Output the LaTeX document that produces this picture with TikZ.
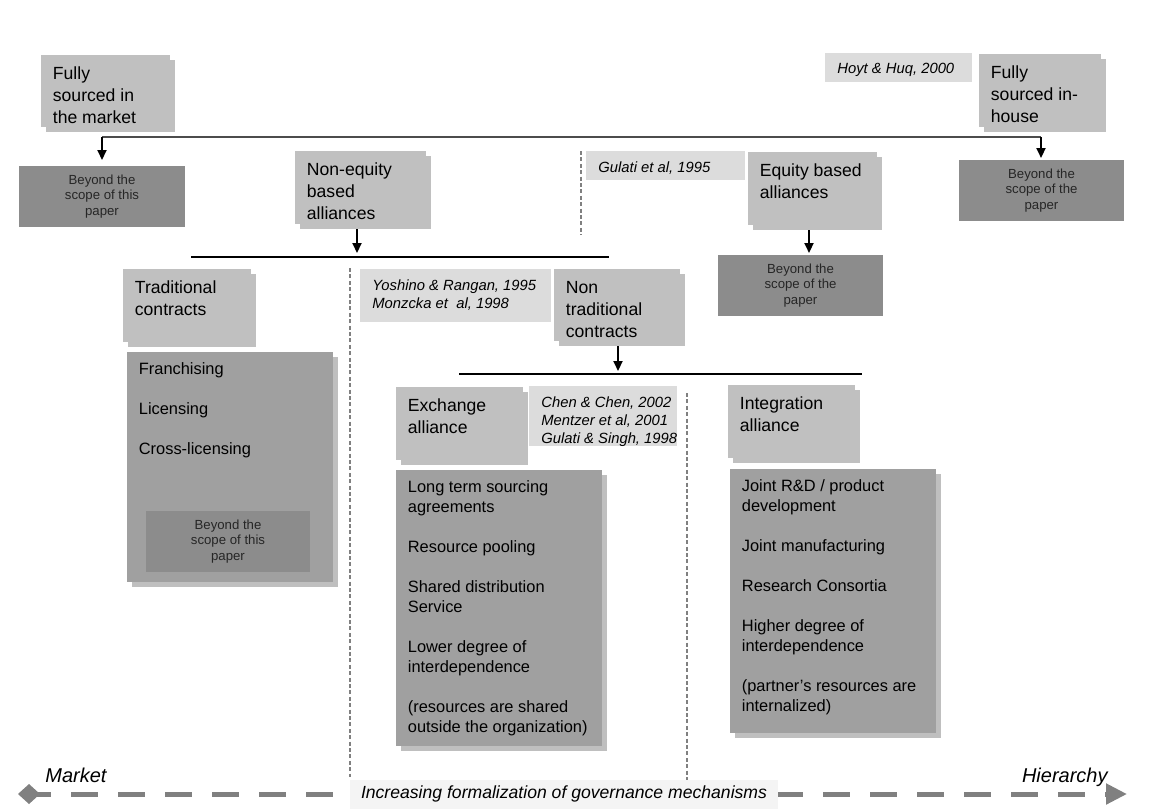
\documentclass[tikz,border=0pt]{standalone}
\usepackage{fontspec}
\setmainfont{Liberation Sans}
\usetikzlibrary{shadows}
\usetikzlibrary{positioning}
\usetikzlibrary{arrows.meta}
\definecolor{cLight}{RGB}{192,192,192}
\definecolor{cDark}{RGB}{140,140,140}
\definecolor{cList}{RGB}{160,160,160}
\definecolor{cCite}{RGB}{220,220,220}
\definecolor{cBand}{RGB}{244,244,244}
\definecolor{cArrow}{RGB}{128,128,128}
\newcommand\hdfont{\fontsize{8.8}{11}\selectfont}
\newcommand\lsfont{\fontsize{8.2}{10}\selectfont}
\newcommand\bsfont{\fontsize{6.6}{7.75}\selectfont}
\newcommand\ctfont{\itshape\fontsize{7.4}{9}\selectfont}
\tikzstyle{headbox}=[anchor=north west,inner sep=0pt,outer sep=0pt,fill=cLight,general shadow={shadow xshift=2.5pt,shadow yshift=-2.5pt,fill=cLight}]
\tikzstyle{listbox}=[anchor=north west,inner sep=0pt,outer sep=0pt,fill=cList,general shadow={shadow xshift=2.5pt,shadow yshift=-2.5pt,fill=black!25}]
\tikzstyle{citebox}=[anchor=north west,inner sep=0pt,outer sep=0pt,fill=cCite]
\tikzstyle{beybox}=[anchor=north west,inner sep=0pt,outer sep=0pt,fill=cDark]
\tikzstyle{headtxt}=[anchor=north west,inner sep=0pt,align=left,font=\hdfont]
\tikzstyle{listtxt}=[anchor=north west,inner sep=0pt,align=left,font=\lsfont]
\tikzstyle{citetxt}=[anchor=north west,inner sep=0pt,align=left,font=\ctfont]
\tikzstyle{beytxt}=[inner sep=0pt,align=center,font=\bsfont,text=black!85]
\tikzstyle{arr}=[draw,line width=1pt,-{Triangle[length=5pt,width=4.5pt]}]
\tikzstyle{topline}=[draw,line width=1.2pt,black!70]
\tikzstyle{midline}=[draw,line width=0.6pt]
\tikzstyle{vsep}=[draw,line width=0.6pt,gray,dash pattern=on 2pt off 1.2pt]
\tikzstyle{band}=[draw,cArrow,line width=2.5pt,dash pattern=on 13.5pt off 10pt,dash phase=6pt,{Turned Square[length=11pt,width=10pt]}-{Triangle[length=10.5pt,width=10pt]}]
\tikzstyle{endtxt}=[inner sep=0pt,font=\itshape\fontsize{10}{12}\selectfont]

\begin{document}
\begin{tikzpicture}[x=0.5pt,y=-0.5pt]
    \useasboundingbox (0,0) rectangle (1154,810);
    % separators
    \draw[vsep] (581,151) -- (581,235);
    \draw[vsep] (350,268) -- (350,777);
    \draw[vsep] (687,393) -- (687,780);

    % citation boxes
    \foreach \x/\y/\w/\h/\name/\txt in {825/53/147/29/hoyt/{Hoyt \& Huq, 2000}, 586/151/159/29/gul/{Gulati et al, 1995}, 360/269/191/53/yos/{Yoshino \& Rangan, 1995\\Monzcka et~ al, 1998}, 529/386/148/60/chen/{Chen \& Chen, 2002\\Mentzer et al, 2001\\Gulati \& Singh, 1998}}{
        \node[citebox,minimum width=\w*0.5pt,minimum height=\h*0.5pt] (\name) at (\x,\y) {};
        \node[citetxt] (\name-t) at ([xshift=6pt,yshift=-5pt]\name.north west) {\txt};
    }

    % heading boxes
    \foreach \x/\y/\w/\h/\name/\txt in {41/55/129/72/fsm/{Fully\\sourced in\\the market}, 979/54/122/73/fsh/{Fully\\sourced in-\\house}, 295/151/131/73/neq/{Non-equity\\based\\alliances}, 748/152/129/73/eqa/{Equity based\\alliances}, 123/269/128/73/trc/{Traditional\\contracts}, 554/269/126/72/ntc/{Non\\traditional\\contracts}, 396/387/127/73/exa/{Exchange\\alliance}, 728/385/127/73/ina/{Integration\\alliance}}{
        \node[headbox,minimum width=\w*0.5pt,minimum height=\h*0.5pt] (\name) at (\x,\y) {};
        \node[headtxt] (\name-t) at ([xshift=5.75pt,yshift=-5.75pt]\name.north west) {\txt};
    }

    % lists of forms
    \foreach \x/\y/\w/\h/\name/\txt in {127/352/206/230/frl/{Franchising\\[10pt]Licensing\\[10pt]Cross-licensing}, 396/470/206/276/exl/{Long term sourcing\\agreements\\[10pt]Resource pooling\\[10pt]Shared distribution\\Service\\[10pt]Lower degree of\\interdependence\\[10pt](resources are shared\\outside the organization)}, 730/469/206/264/inl/{Joint R\&D / product\\development\\[10pt]Joint manufacturing\\[10pt]Research Consortia\\[10pt]Higher degree of\\interdependence\\[10pt](partner’s resources are\\internalized)}}{
        \node[listbox,minimum width=\w*0.5pt,minimum height=\h*0.5pt] (\name) at (\x,\y) {};
        \node[listtxt] (\name-t) at ([xshift=5.75pt,yshift=-5pt]\name.north west) {\txt};
    }

    % out of scope
    \foreach \x/\y/\w/\h/\name/\txt in {19/166/166/61/b1/{Beyond the\\scope of this\\paper}, 959/160/165/61/b2/{Beyond the\\scope of the\\paper}, 718/255/165/61/b3/{Beyond the\\scope of the\\paper}, 146/511/164/61/b4/{Beyond the\\scope of this\\paper}}{
        \node[beybox,minimum width=\w*0.5pt,minimum height=\h*0.5pt] (\name) at (\x,\y) {};
        \node[beytxt] (\name-t) at (\name.center) {\txt};
    }

    % branching lines and arrows
    \coordinate (t1) at (102,137);
    \coordinate (t2) at (1041,137);
    \coordinate (l2a) at (191,257);
    \coordinate (l2b) at (609,257);
    \coordinate (n1) at (357,257);
    \coordinate (e1) at (809,255);
    \coordinate (l3a) at (459,374);
    \coordinate (l3b) at (862,374);
    \coordinate (n2) at (618,374);
    \path[topline] (t1) -- (t2);
    \path[arr,shorten >=3pt] (t1) -- (t1 |- b1.north);
    \path[arr,shorten >=1pt] (t2) -- (t2 |- b2.north);
    \path[midline] (l2a) -- (l2b);
    \path[arr,shorten <=2.5pt,shorten >=2pt] (n1 |- neq.south) -- (n1);
    \path[arr,shorten <=2.5pt,shorten >=1pt] (e1 |- eqa.south) -- (e1);
    \path[midline] (l3a) -- (l3b);
    \path[arr,shorten <=2.5pt,shorten >=1.5pt] (n2 |- ntc.south) -- (n2);

    % governance axis
    \coordinate (mL) at (18,794);
    \coordinate (mR) at (1127,794);
    \path[band] (mL) -- (mR);
    \node[fill=cBand,inner sep=0pt,minimum width=214pt,minimum height=14.5pt,font=\itshape\fontsize{8.8}{10}\selectfont] (inc) at (564,794) {Increasing formalization of governance mechanisms};
    \node[endtxt,anchor=base west] (mkt) at (45,782) {Market};
    \node[endtxt,anchor=base east] (hie) at (1108,782) {Hierarchy};
\end{tikzpicture}
\end{document}
